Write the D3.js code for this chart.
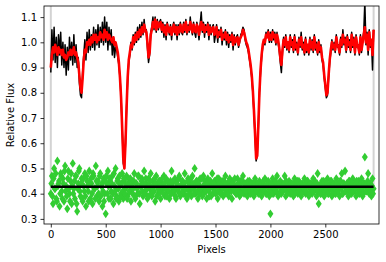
<!DOCTYPE html>
<html>
<head>
<meta charset="utf-8">
<script src="https://cdn.jsdelivr.net/npm/d3@7"></script>
<style>
  body { margin: 0; background: #fff; }
  text { font-family: "DejaVu Sans", sans-serif; }
</style>
</head>
<body>
<div id="chart"></div>
<script>
// flux and model sampled every 10 pixels; residuals every 10 pixels in two interleaved sets
var step = 10;

var flux = [
  0.88,1.05,0.93,1.06,0.92,1.02,0.90,1.03,0.95,1.04,0.91,1.0,0.90,0.99,0.87,0.98,0.89,1.02,0.93,1.0,
  0.91,1.03,0.92,0.99,0.90,0.94,0.84,0.79,0.78,0.88,0.95,1.01,0.93,1.04,0.96,1.05,0.97,1.03,0.98,1.06,
  0.97,1.05,0.99,1.07,0.98,1.06,1.0,1.08,0.99,1.1,1.0,1.08,0.97,1.06,0.99,1.05,0.95,1.02,0.94,0.98,
  0.97,0.94,0.91,0.86,0.78,0.66,0.52,0.50,0.60,0.74,0.85,0.92,0.95,1.0,0.97,1.03,0.99,1.04,1.0,1.06,
  1.01,1.07,1.02,1.08,1.03,1.09,1.04,1.05,0.98,0.92,0.95,1.04,1.06,1.1,1.05,1.1,1.04,1.09,1.05,1.08,
  1.09,1.04,1.08,1.02,1.07,1.01,1.08,1.05,1.03,1.07,1.01,1.06,1.08,1.03,1.07,1.01,1.07,1.03,1.08,1.04,
  1.03,1.08,1.04,1.09,1.03,1.07,1.04,1.1,1.05,1.03,1.08,1.04,1.02,1.08,1.05,1.01,1.07,1.12,1.04,1.08,
  1.02,1.07,1.04,1.08,1.01,1.07,1.03,1.06,1.07,1.0,1.03,1.07,1.0,1.05,1.02,1.06,0.99,1.04,1.01,1.05,
  0.99,1.04,0.98,1.03,1.0,1.04,0.97,1.03,0.99,1.02,1.03,0.98,1.0,1.03,1.04,1.06,1.05,1.01,0.99,0.98,
  0.96,0.93,0.9,0.86,0.8,0.72,0.63,0.53,0.55,0.66,0.8,0.88,0.94,0.98,1.01,0.99,1.04,1.02,1.05,1.0,
  1.04,1.0,1.05,1.01,1.04,0.99,1.04,1.0,0.97,0.92,0.88,0.96,1.02,0.98,1.03,0.97,1.0,0.96,1.03,0.98,
  1.01,0.96,1.03,0.97,1.0,0.95,1.02,0.98,1.04,0.97,1.0,0.95,1.02,0.96,0.99,0.95,1.02,0.97,1.01,0.96,
  1.03,0.97,1.0,0.95,1.01,0.96,0.99,0.93,0.91,0.86,0.82,0.78,0.79,0.86,0.92,0.96,1.01,0.97,1.0,0.96,
  1.03,0.98,0.99,0.95,1.02,0.98,1.05,0.99,1.02,0.96,1.03,0.98,1.01,0.96,1.04,0.98,1.02,0.95,1.03,0.98,
  0.99,0.95,1.03,0.96,1.01,1.04,1.16,0.99,1.04,0.95,1.05,0.98,1.01,0.89,1.05
];

var model = [
  0.90,0.95,0.98,0.96,0.99,0.97,0.95,0.98,0.96,0.97,0.95,0.97,0.94,0.95,0.93,0.94,0.96,0.95,0.97,0.95,
  0.96,0.98,0.95,0.96,0.94,0.92,0.87,0.82,0.80,0.86,0.93,0.97,0.96,1.0,0.99,1.01,0.99,1.02,1.0,1.03,
  1.01,1.03,1.0,1.02,1.01,1.04,1.02,1.03,1.01,1.05,1.02,1.04,1.01,1.03,1.02,1.01,1.0,1.02,0.99,1.0,
  0.98,0.96,0.92,0.86,0.78,0.66,0.54,0.50,0.60,0.74,0.86,0.93,0.96,0.99,0.98,1.02,1.0,1.03,1.01,1.04,
  1.02,1.05,1.03,1.06,1.04,1.07,1.05,1.04,1.0,0.94,0.96,1.03,1.05,1.08,1.06,1.09,1.05,1.08,1.06,1.07,
  1.08,1.05,1.07,1.04,1.06,1.03,1.07,1.05,1.04,1.06,1.03,1.05,1.07,1.04,1.06,1.03,1.06,1.04,1.07,1.05,
  1.04,1.07,1.05,1.08,1.04,1.06,1.05,1.08,1.06,1.04,1.07,1.05,1.04,1.07,1.06,1.03,1.06,1.08,1.05,1.07,
  1.04,1.06,1.05,1.07,1.03,1.06,1.04,1.05,1.06,1.03,1.04,1.06,1.02,1.04,1.03,1.05,1.01,1.03,1.02,1.04,
  1.01,1.03,1.0,1.02,1.01,1.03,0.99,1.02,1.0,1.01,1.02,0.99,1.01,1.02,1.03,1.05,1.04,1.02,1.0,0.99,
  0.97,0.94,0.91,0.87,0.81,0.73,0.64,0.54,0.55,0.67,0.80,0.89,0.95,0.99,1.01,1.0,1.03,1.02,1.04,1.01,
  1.03,1.01,1.04,1.02,1.03,1.0,1.03,1.01,0.98,0.94,0.91,0.97,1.01,0.99,1.02,0.98,1.0,0.97,1.02,0.99,
  1.0,0.97,1.02,0.98,0.99,0.96,1.01,0.99,1.02,0.98,0.99,0.96,1.01,0.97,0.99,0.96,1.01,0.98,1.0,0.97,
  1.02,0.98,0.99,0.96,1.0,0.97,0.98,0.94,0.92,0.87,0.83,0.79,0.80,0.87,0.93,0.97,1.0,0.98,0.99,0.97,
  1.02,0.99,0.98,0.96,1.01,0.99,1.03,1.0,1.01,0.97,1.02,0.99,1.0,0.97,1.03,0.99,1.01,0.96,1.02,0.99,
  0.98,0.96,1.02,0.97,1.0,1.03,1.06,1.0,1.03,0.97,1.04,0.99,1.01,0.95,1.05
];

// residuals (offset), pixels 0, 10, 20 ...
var residA = [
  0.40,0.47,0.36,0.50,0.42,0.38,0.53,0.44,0.35,0.48,
  0.41,0.46,0.37,0.51,0.43,0.34,0.49,0.40,0.45,0.36,
  0.52,0.42,0.38,0.47,0.33,0.44,0.50,0.39,0.46,0.37,
  0.43,0.48,0.35,0.45,0.41,0.49,0.38,0.44,0.36,0.47,
  0.42,0.51,0.39,0.45,0.37,0.48,0.43,0.35,0.46,0.40,
  0.32,0.44,0.49,0.38,0.45,0.41,0.47,0.36,0.43,0.50,
  0.39,0.46,0.37,0.44,0.40,0.48,0.38,0.45,0.42,0.47,
  0.39,0.46,0.41,0.37,0.45,0.42,0.48,0.38,0.44,0.40,
  0.47,0.36,0.43,0.46,0.39,0.49,0.41,0.44,0.38,0.46,
  0.42,0.48,0.39,0.45,0.41,0.37,0.47,0.43,0.40,0.45,
  0.38,0.44,0.42,0.47,0.39,0.46,0.41,0.43,0.38,0.45,
  0.49,0.42,0.40,0.46,0.38,0.44,0.41,0.47,0.39,0.43,
  0.45,0.40,0.48,0.42,0.38,0.46,0.41,0.44,0.39,0.47,
  0.42,0.50,0.40,0.45,0.38,0.43,0.46,0.41,0.39,0.47,
  0.42,0.44,0.38,0.46,0.41,0.43,0.39,0.48,0.42,0.45,
  0.40,0.44,0.38,0.46,0.42,0.40,0.45,0.39,0.43,0.47,
  0.41,0.44,0.39,0.46,0.42,0.38,0.45,0.41,0.43,0.40,
  0.46,0.42,0.39,0.45,0.41,0.47,0.40,0.44,0.42,0.39,
  0.41,0.45,0.40,0.44,0.42,0.39,0.46,0.41,0.43,0.40,
  0.45,0.42,0.39,0.44,0.41,0.46,0.40,0.43,0.45,0.39,
  0.32,0.42,0.46,0.40,0.44,0.41,0.47,0.39,0.43,0.45,
  0.40,0.44,0.42,0.47,0.39,0.43,0.41,0.45,0.40,0.44,
  0.42,0.39,0.46,0.41,0.44,0.40,0.45,0.42,0.39,0.44,
  0.41,0.46,0.40,0.43,0.45,0.39,0.42,0.44,0.40,0.46,
  0.41,0.44,0.39,0.48,0.36,0.43,0.40,0.45,0.42,0.39,
  0.44,0.41,0.46,0.40,0.43,0.45,0.39,0.42,0.44,0.40,
  0.46,0.41,0.43,0.39,0.45,0.48,0.40,0.44,0.49,0.41,
  0.43,0.39,0.45,0.42,0.40,0.46,0.41,0.44,0.39,0.43,
  0.45,0.40,0.42,0.46,0.39,0.44,0.545,0.41,0.43,0.48,
  0.40,0.44,0.39,0.46,0.42
];

// residuals (offset), pixels 5, 15, 25 ...
var residB = [
  0.44,0.39,0.46,0.42,0.48,0.37,0.43,0.45,0.40,0.47,
  0.38,0.44,0.49,0.41,0.39,0.46,0.42,0.37,0.48,0.43,
  0.40,0.45,0.47,0.36,0.42,0.49,0.41,0.44,0.38,0.46,
  0.41,0.39,0.47,0.43,0.37,0.44,0.46,0.40,0.48,0.42,
  0.38,0.45,0.43,0.40,0.47,0.39,0.44,0.41,0.37,0.45,
  0.47,0.40,0.43,0.46,0.38,0.44,0.40,0.48,0.41,0.38,
  0.45,0.42,0.47,0.39,0.44,0.41,0.46,0.40,0.43,0.38,
  0.44,0.41,0.46,0.43,0.40,0.45,0.39,0.44,0.42,0.47,
  0.40,0.43,0.45,0.41,0.44,0.40,0.46,0.42,0.39,0.43,
  0.45,0.40,0.43,0.41,0.46,0.44,0.39,0.42,0.45,0.41,
  0.43,0.46,0.40,0.44,0.42,0.39,0.45,0.41,0.44,0.40,
  0.43,0.45,0.41,0.39,0.44,0.42,0.46,0.40,0.43,0.45,
  0.41,0.44,0.42,0.39,0.45,0.43,0.40,0.46,0.42,0.44,
  0.40,0.43,0.45,0.41,0.44,0.40,0.42,0.46,0.43,0.40,
  0.45,0.41,0.44,0.42,0.39,0.45,0.43,0.40,0.44,0.41,
  0.43,0.46,0.41,0.44,0.40,0.43,0.42,0.45,0.40,0.44,
  0.42,0.40,0.45,0.43,0.41,0.44,0.42,0.46,0.40,0.43,
  0.44,0.41,0.43,0.40,0.45,0.42,0.44,0.41,0.43,0.45,
  0.43,0.41,0.44,0.42,0.40,0.45,0.43,0.41,0.44,0.42,
  0.40,0.44,0.42,0.45,0.41,0.43,0.40,0.44,0.42,0.41,
  0.44,0.40,0.43,0.42,0.45,0.41,0.43,0.44,0.40,0.42,
  0.43,0.41,0.44,0.42,0.45,0.40,0.43,0.42,0.44,0.41,
  0.44,0.42,0.40,0.43,0.45,0.41,0.42,0.44,0.40,0.43,
  0.42,0.44,0.41,0.45,0.43,0.40,0.44,0.42,0.41,0.43,
  0.45,0.42,0.44,0.41,0.43,0.40,0.44,0.42,0.45,0.41,
  0.42,0.44,0.40,0.43,0.42,0.45,0.41,0.44,0.42,0.40,
  0.44,0.41,0.43,0.45,0.42,0.40,0.44,0.43,0.41,0.44,
  0.42,0.45,0.40,0.43,0.44,0.41,0.43,0.42,0.45,0.40,
  0.43,0.41,0.44,0.42,0.40,0.44,0.43,0.41,0.45,0.42,
  0.44,0.41,0.43,0.40
];

var residLevel = 0.427;      // black horizontal line
var edgePixels = [0, 2940];  // light grey vertical lines
var lastPixel = 2940;

var xTicks = [0, 500, 1000, 1500, 2000, 2500];
var yTicks = [0.3, 0.4, 0.5, 0.6, 0.7, 0.8, 0.9, 1.0, 1.1];

var width = 386, height = 262;
var margin = {top: 6, right: 7, bottom: 38, left: 44};
var w = width - margin.left - margin.right,
    h = height - margin.top - margin.bottom;

var svg = d3.select("#chart").append("svg")
    .attr("width", width)
    .attr("height", height);

svg.append("defs").append("clipPath").attr("id", "clip")
    .append("rect").attr("width", w).attr("height", h);

var g = svg.append("g")
    .attr("transform", "translate(" + margin.left + "," + margin.top + ")");

var x = d3.scaleLinear().domain([-62, 2989]).range([0, w]);
var y = d3.scaleLinear().domain([0.2798, 1.144]).range([h, 0]);

var plot = g.append("g").attr("clip-path", "url(#clip)");

// grey edge markers
plot.selectAll(".edge")
    .data(edgePixels)
    .enter().append("line")
    .attr("x1", function(d) { return x(d); })
    .attr("x2", function(d) { return x(d); })
    .attr("y1", y(0.40))
    .attr("y2", 0)
    .attr("stroke", "#d3d3d3")
    .attr("stroke-width", 2);

var line = d3.line()
    .x(function(d, i) { return x(i * step); })
    .y(function(d) { return y(d); });

plot.append("path")
    .datum(flux)
    .attr("fill", "none")
    .attr("stroke", "#000")
    .attr("stroke-width", 1.5)
    .attr("stroke-linejoin", "round")
    .attr("d", line);

plot.append("path")
    .datum(model)
    .attr("fill", "none")
    .attr("stroke", "#ff0000")
    .attr("stroke-width", 2.6)
    .attr("stroke-linejoin", "round")
    .attr("d", line);

// thin diamonds for residuals
var residPts = residA.map(function(v, i) { return {px: i * step, v: v}; })
    .concat(residB.map(function(v, i) { return {px: i * step + 5, v: v}; }));

plot.selectAll(".res")
    .data(residPts)
    .enter().append("path")
    .attr("class", "res")
    .attr("transform", function(d) {
        return "translate(" + x(d.px) + "," + y(d.v) + ")";
    })
    .attr("d", "M0,-4.4L3,0L0,4.4L-3,0Z")
    .attr("fill", "#32cd32");

plot.append("line")
    .attr("x1", x(0))
    .attr("x2", x(lastPixel))
    .attr("y1", y(residLevel))
    .attr("y2", y(residLevel))
    .attr("stroke", "#000")
    .attr("stroke-width", 2.5);

// axes
var xAxis = g.append("g")
    .attr("transform", "translate(0," + h + ")")
    .call(d3.axisBottom(x).tickValues(xTicks).tickSize(3.5).tickPadding(3.5).tickFormat(d3.format("d")));
var yAxis = g.append("g")
    .call(d3.axisLeft(y).tickValues(yTicks).tickSize(3.5).tickPadding(3.5).tickFormat(d3.format(".1f")));

[xAxis, yAxis].forEach(function(a) {
    a.select(".domain").remove();
    a.selectAll("line").attr("stroke", "#000").attr("stroke-width", 0.8);
    a.selectAll("text").attr("font-size", "10px").attr("fill", "#000")
        .attr("font-family", "DejaVu Sans, sans-serif");
});

g.append("rect")
    .attr("width", w)
    .attr("height", h)
    .attr("fill", "none")
    .attr("stroke", "#000")
    .attr("stroke-width", 0.8);

svg.append("text")
    .attr("x", margin.left + w / 2)
    .attr("y", 253)
    .attr("text-anchor", "middle")
    .attr("font-size", "10px")
    .text("Pixels");

svg.append("text")
    .attr("transform", "translate(14," + (margin.top + h / 2) + ") rotate(-90)")
    .attr("text-anchor", "middle")
    .attr("font-size", "10px")
    .text("Relative Flux");
</script>
</body>
</html>
